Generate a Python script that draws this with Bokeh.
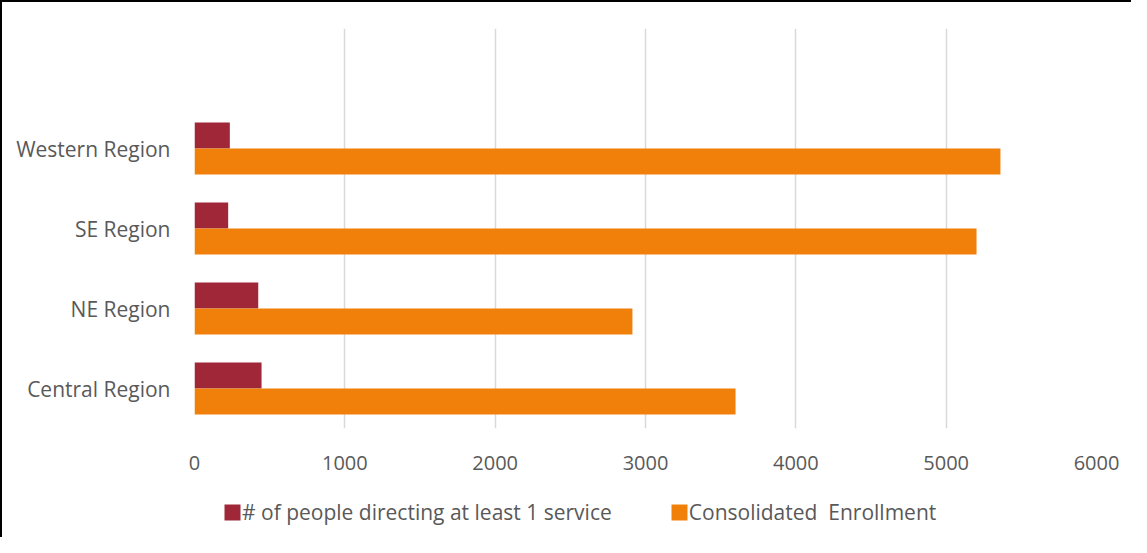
from bokeh.plotting import figure
from bokeh.layouts import column
from bokeh.models import Range1d, FactorRange, FixedTicker, Legend, LegendItem
from bokeh.transform import dodge
from bokeh.embed import file_html
from bokeh.resources import INLINE
from bokeh.models import ColumnDataSource

# ---- data ----
regions = ["Central Region", "NE Region", "SE Region", "Western Region"]
people_directing = [446, 424, 224, 235]
consolidated_enrollment = [3599, 2913, 5202, 5361]
x_ticks = [0, 1000, 2000, 3000, 4000, 5000, 6000]
series_names = ["# of people directing at least 1 service", "Consolidated  Enrollment"]

RED = "#9F2738"
ORANGE = "#F0800A"
TXT = "#595959"
FONT = "Open Sans"

src = ColumnDataSource(dict(region=regions, people=people_directing, enroll=consolidated_enrollment))

factors = regions + [" "]
p = figure(width=1129, height=482, output_backend="svg", toolbar_location=None,
           x_range=Range1d(0, 6000), y_range=FactorRange(*factors, range_padding=0),
           min_border_left=192, min_border_right=35, min_border_top=26, min_border_bottom=56)
p.outline_line_color = None
p.background_fill_color = "white"

bh = 0.325
r1 = p.hbar(y=dodge("region", bh / 2, range=p.y_range), right="people", left=0, height=bh,
            source=src, fill_color=RED, line_color=None)
r2 = p.hbar(y=dodge("region", -bh / 2, range=p.y_range), right="enroll", left=0, height=bh,
            source=src, fill_color=ORANGE, line_color=None)

p.xaxis.ticker = FixedTicker(ticks=x_ticks)
p.xgrid.ticker = FixedTicker(ticks=x_ticks)
p.xgrid.grid_line_color = "#d9d9d9"
p.xgrid.grid_line_width = 1.5
p.ygrid.grid_line_color = None

for ax in (p.xaxis, p.yaxis):
    ax.axis_line_color = None
    ax.major_tick_line_color = None
    ax.minor_tick_line_color = None
    ax.major_label_text_color = TXT
    ax.major_label_text_font = FONT
p.xaxis.major_label_text_font_size = "20px"
p.yaxis.major_label_text_font_size = "21px"
p.xaxis.major_label_standoff = 21
p.yaxis.major_label_standoff = 18

# legend strip below the chart (its renderers sit outside the visible range)
lg = figure(width=1129, height=53, output_backend="svg", toolbar_location=None,
            x_range=Range1d(0, 1), y_range=Range1d(0, 1),
            x_axis_location=None, y_axis_location=None,
            min_border_left=0, min_border_right=0, min_border_top=0, min_border_bottom=0)
lg.outline_line_color = None
lg.grid.grid_line_color = None
placeholder = ColumnDataSource(dict(y=[-5], right=[-5]))
l1 = lg.hbar(y="y", right="right", left=-6, height=0.1, source=placeholder, fill_color=RED, line_color=None)
l2 = lg.hbar(y="y", right="right", left=-6, height=0.1, source=placeholder, fill_color=ORANGE, line_color=None)

legend = Legend(items=[LegendItem(label=series_names[0], renderers=[l1]),
                       LegendItem(label=series_names[1], renderers=[l2])],
                orientation="horizontal", location=(28, 11),
                glyph_width=20, glyph_height=20, label_standoff=0, spacing=57,
                padding=0, margin=0, border_line_color=None, background_fill_alpha=0,
                label_text_font=FONT, label_text_font_size="21px", label_text_color=TXT)
lg.add_layout(legend, "center")

page = column(p, lg, spacing=0)
page.styles = {"border-left": "2px solid black", "border-top": "2px solid black"}

open("out.html", "w").write(file_html(page, INLINE))
